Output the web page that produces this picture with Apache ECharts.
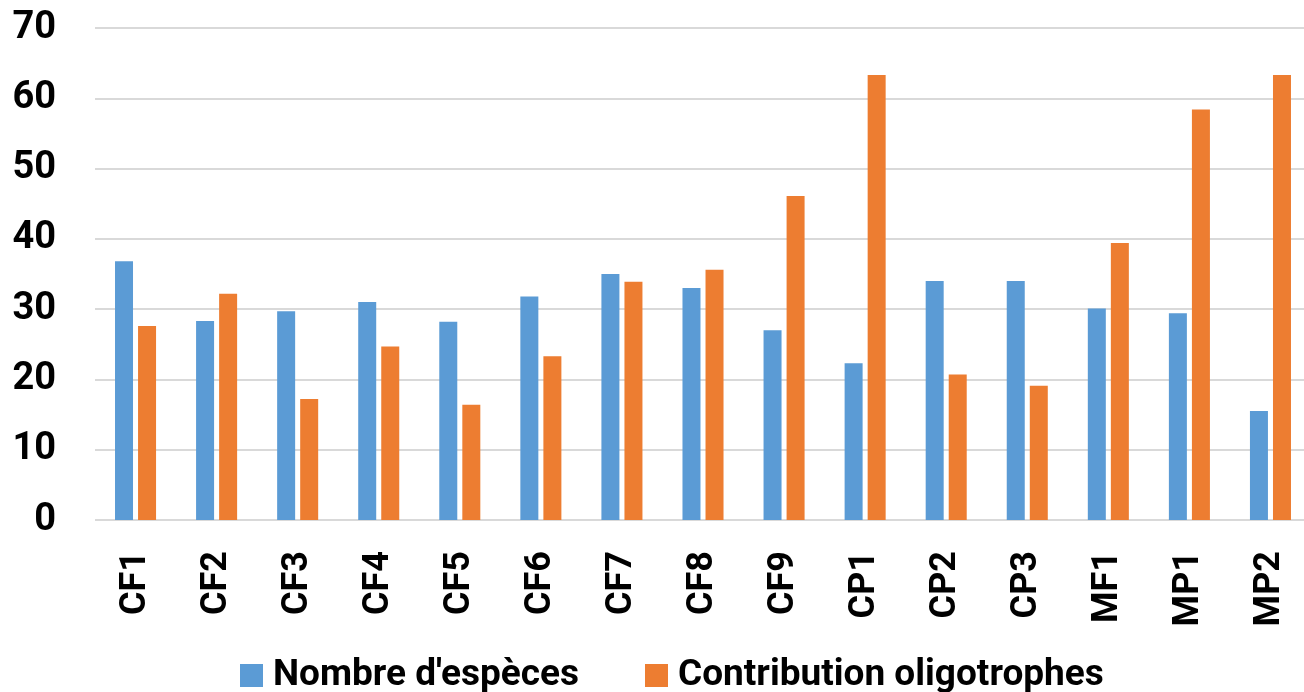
<!DOCTYPE html>
<html>
<head>
<meta charset="utf-8">
<script src="https://cdn.jsdelivr.net/npm/echarts@6/dist/echarts.min.js"></script>
<style>
html,body{margin:0;padding:0;background:#fff;}
#c{width:1304px;height:692px;}
</style>
</head>
<body>
<div id="c"></div>
<script>
const categories = ['CF1','CF2','CF3','CF4','CF5','CF6','CF7','CF8','CF9','CP1','CP2','CP3','MF1','MP1','MP2'];
const nombreEspeces = [36.8,28.3,29.7,31.0,28.2,31.8,35.0,33.0,27.0,22.3,34.0,34.0,30.1,29.4,15.5];
const contribOligo = [27.6,32.2,17.2,24.7,16.4,23.3,33.9,35.6,46.1,63.3,20.7,19.1,39.4,58.4,63.3];
const seriesNames = ["Nombre d'espèces","Contribution oligotrophes"];
const yTicks = {min:0, max:70, interval:10};

const chart = echarts.init(document.getElementById('c'), null, {renderer:'canvas'});
const font = 'Roboto, "Liberation Sans", sans-serif';
chart.setOption({
  animation:false,
  backgroundColor:'#fff',
  color:['#5b9bd5','#ed7d31'],
  grid:{left:95, top:28, width:1216, height:492, containLabel:false, outerBoundsMode:'none'},
  legend:{
    top:652, left:235,
    itemWidth:23, itemHeight:23, itemGap:66,
    icon:'rect',
    textStyle:{fontFamily:font, fontWeight:'bold', fontSize:37, color:'#000', padding:[0,0,0,5]},
    data:seriesNames
  },
  xAxis:{
    type:'category', data:categories,
    axisLine:{show:false}, axisTick:{show:false},
    axisLabel:{rotate:90, margin:31, fontFamily:font, fontWeight:'bold', fontSize:36, color:'#000'}
  },
  yAxis:{
    type:'value', min:yTicks.min, max:yTicks.max, interval:yTicks.interval,
    axisLine:{show:false}, axisTick:{show:false},
    splitLine:{lineStyle:{color:'#d9d9d9', width:2}},
    axisLabel:{margin:39, fontFamily:font, fontWeight:'bold', fontSize:38, color:'#000'}
  },
  series:[
    {name:seriesNames[0], type:'bar', data:nombreEspeces, barWidth:18, barGap:'28%'},
    {name:seriesNames[1], type:'bar', data:contribOligo, barWidth:18, barGap:'28%'}
  ]
});
</script>
</body>
</html>
